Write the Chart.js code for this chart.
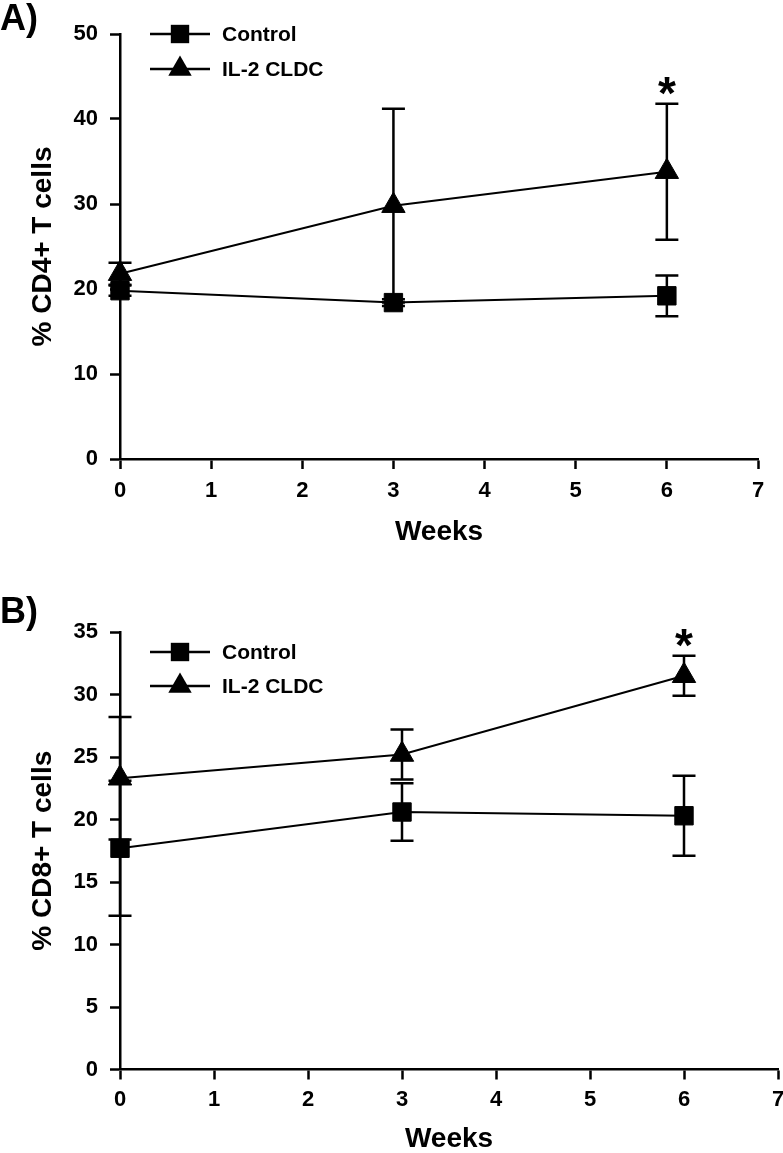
<!DOCTYPE html>
<html>
<head>
<meta charset="utf-8">
<script src="https://cdn.jsdelivr.net/npm/chart.js@4.4.1/dist/chart.umd.min.js"></script>
<style>
  html, body { margin: 0; background: #fff; overflow: hidden; }
  body { width: 783px; height: 1153px; position: relative; }
  canvas { position: absolute; left: 0; }
  .tag { position: absolute; left: 0; font: bold 36px "Liberation Sans", Arial, sans-serif; line-height: 1; color: #000; }
</style>
</head>
<body>
<canvas id="cd4" style="top:0" width="783" height="575"></canvas>
<canvas id="cd8" style="top:575px" width="793" height="578"></canvas>
<div class="tag" style="top:0">A)</div>
<div class="tag" style="top:593px">B)</div>
<script>
const FONT = '"Liberation Sans", Arial, sans-serif';

// weeks of sampling
const weeks = [0, 3, 6];
const seriesNames = ['Control', 'IL-2 CLDC'];

// panel A: % CD4+ T cells (mean, error)
const cd4Control = [19.8, 18.4, 19.2];
const cd4ControlErr = [0.6, 0.4, 2.4];
const cd4Il2 = [21.8, 29.8, 33.8];
const cd4Il2Err = [1.3, 11.4, 8.0];
const cd4Sig = [false, false, true];

// panel B: % CD8+ T cells (mean, error)
const cd8Control = [17.7, 20.6, 20.3];
const cd8ControlErr = [5.4, 2.3, 3.2];
const cd8Il2 = [23.3, 25.2, 31.5];
const cd8Il2Err = [4.9, 2.0, 1.6];
const cd8Sig = [false, false, true];

const toXY = vals => weeks.map((w, i) => ({ x: w, y: vals[i] }));

// vertical error bars with caps
const errorBars = {
  id: 'errorBars',
  beforeDatasetsDraw(chart) {
    const { ctx, scales: { x, y } } = chart;
    ctx.save();
    ctx.strokeStyle = '#000';
    ctx.lineWidth = 2.5;
    chart.data.datasets.forEach(ds => {
      ds.data.forEach((p, i) => {
        const e = ds.errors[i];
        const px = x.getPixelForValue(p.x);
        const top = y.getPixelForValue(p.y + e);
        const bot = y.getPixelForValue(p.y - e);
        ctx.beginPath();
        ctx.moveTo(px, top); ctx.lineTo(px, bot);
        ctx.moveTo(px - 11.5, top); ctx.lineTo(px + 11.5, top);
        ctx.moveTo(px - 11.5, bot); ctx.lineTo(px + 11.5, bot);
        ctx.stroke();
      });
    });
    ctx.restore();
  }
};

// asterisk over significant IL-2 points
const sigStar = {
  id: 'sigStar',
  afterDatasetsDraw(chart, args, opts) {
    const { ctx, scales: { x, y } } = chart;
    const ds = chart.data.datasets[1];
    ctx.save();
    ctx.font = 'bold 46px ' + FONT;
    ctx.textAlign = 'center';
    ctx.textBaseline = 'alphabetic';
    ctx.fillStyle = '#000';
    opts.marks.forEach((m, i) => {
      if (!m) return;
      const p = ds.data[i];
      const top = y.getPixelForValue(p.y + ds.errors[i]);
      ctx.fillText('*', x.getPixelForValue(p.x), top + 5);
    });
    ctx.restore();
  }
};

// legend: line through marker, then label
const keyBox = {
  id: 'keyBox',
  afterDraw(chart, args, opts) {
    const ctx = chart.ctx;
    ctx.save();
    chart.data.datasets.forEach((ds, i) => {
      const ly = opts.y[i];
      ctx.strokeStyle = '#000';
      ctx.lineWidth = 2.5;
      ctx.beginPath();
      ctx.moveTo(150, ly); ctx.lineTo(210, ly);
      ctx.stroke();
      ctx.fillStyle = '#000';
      const r = ds.pointRadius;
      if (ds.pointStyle === 'rect') {
        const h = r * Math.SQRT1_2;
        ctx.fillRect(180 - h, ly - h, 2 * h, 2 * h);
      } else {
        ctx.beginPath();
        ctx.moveTo(180, ly - r);
        ctx.lineTo(180 + 0.866 * r, ly + 0.5 * r);
        ctx.lineTo(180 - 0.866 * r, ly + 0.5 * r);
        ctx.closePath();
        ctx.fill();
      }
      ctx.font = 'bold 21px ' + FONT;
      ctx.textAlign = 'left';
      ctx.textBaseline = 'middle';
      ctx.fillText(ds.label, 222, ly + 1);
    });
    ctx.restore();
  }
};

function buildChart(id, o) {
  const tickFont = { family: FONT, size: 22, weight: 'bold' };
  const titleFont = { family: FONT, size: 28, weight: 'bold', lineHeight: 1 };
  const common = {
    borderColor: '#000',
    borderWidth: 2,
    pointBackgroundColor: '#000',
    pointBorderColor: '#000',
    pointBorderWidth: 1,
    tension: 0,
    fill: false,
    clip: false
  };
  return new Chart(document.getElementById(id), {
    type: 'line',
    data: {
      datasets: [
        { ...common, label: seriesNames[0], data: toXY(o.control), errors: o.controlErr, pointStyle: 'rect', pointRadius: 13 },
        { ...common, label: seriesNames[1], data: toXY(o.il2), errors: o.il2Err, pointStyle: 'triangle', pointRadius: 13.5 }
      ]
    },
    options: {
      responsive: false,
      animation: false,
      devicePixelRatio: 1,
      layout: { padding: { top: o.top, right: o.right, left: 0, bottom: 0 } },
      plugins: {
        legend: { display: false },
        tooltip: { enabled: false },
        keyBox: { y: o.keyY },
        sigStar: { marks: o.sig }
      },
      scales: {
        x: {
          type: 'linear', min: 0, max: 7,
          ticks: { stepSize: 1, font: tickFont, color: '#000', padding: o.xPad, maxRotation: 0 },
          grid: { drawOnChartArea: false, tickLength: 10, tickWidth: 2.5, tickColor: '#000' },
          border: { color: '#000', width: 2.5 },
          title: { display: true, text: 'Weeks', font: titleFont, color: '#000', padding: { top: 0, bottom: o.xTitlePad } },
          afterFit: s => { s.height = o.xHeight; }
        },
        y: {
          min: 0, max: o.yMax,
          ticks: { stepSize: o.yStep, font: tickFont, color: '#000', padding: 12 },
          grid: { drawOnChartArea: false, tickLength: 10, tickWidth: 2.5, tickColor: '#000' },
          border: { color: '#000', width: 2.5 },
          title: { display: true, text: o.yTitle, font: titleFont, color: '#000', padding: { top: 29, bottom: 0 } },
          afterFit: s => { s.width = 120; }
        }
      }
    },
    plugins: [errorBars, sigStar, keyBox]
  });
}

buildChart('cd4', {
  control: cd4Control, controlErr: cd4ControlErr,
  il2: cd4Il2, il2Err: cd4Il2Err, sig: cd4Sig,
  yMax: 50, yStep: 10, yTitle: '% CD4+ T cells',
  top: 34, right: 25, xHeight: 116, xPad: 9, xTitlePad: 28.5,
  keyY: [34, 69]
});

buildChart('cd8', {
  control: cd8Control, controlErr: cd8ControlErr,
  il2: cd8Il2, il2Err: cd8Il2Err, sig: cd8Sig,
  yMax: 35, yStep: 5, yTitle: '% CD8+ T cells',
  top: 57, right: 15, xHeight: 83.5, xPad: 7, xTitlePad: 0,
  keyY: [77, 111]
});
</script>
</body>
</html>
